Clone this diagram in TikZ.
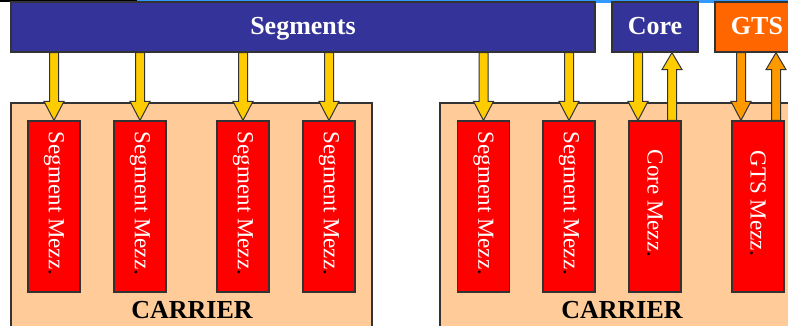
\documentclass[tikz,border=0pt]{standalone}
\usepackage{fontspec}
\setmainfont{Liberation Serif}
\usetikzlibrary{calc}
\definecolor{busblue}{HTML}{333399}
\definecolor{gtsorange}{HTML}{FF6600}
\definecolor{carrierfill}{HTML}{FFCC99}
\definecolor{mezzred}{HTML}{FF0000}
\definecolor{goldarrow}{HTML}{FFCC00}
\definecolor{orangearrow}{HTML}{FF9900}
\definecolor{edge}{HTML}{333333}
\definecolor{stripblue}{HTML}{3399FF}

% block arrow pointing down from a source box to a mezzanine (x offset from its centre)
\newcommand{\blockdown}[4]{%
  \draw[blockarrow, fill=#1] let \p1=($(#3.north)+(#4,0)$), \p2=(#2.south) in
    (\x1-4.5pt,\y2) -- (\x1+4.5pt,\y2) -- (\x1+4.5pt,\y1+19pt) -- (\x1+10pt,\y1+19pt)
    -- (\x1,\y1) -- (\x1-10pt,\y1+19pt) -- (\x1-4.5pt,\y1+19pt) -- cycle;}
% block arrow pointing up from a mezzanine to a source box
\newcommand{\blockup}[4]{%
  \draw[blockarrow, fill=#1] let \p1=($(#3.north)+(#4,0)$), \p2=(#2.south) in
    (\x1-4.5pt,\y1) -- (\x1+4.5pt,\y1) -- (\x1+4.5pt,\y2-17pt) -- (\x1+10pt,\y2-17pt)
    -- (\x1,\y2) -- (\x1-10pt,\y2-17pt) -- (\x1-4.5pt,\y2-17pt) -- cycle;}

\tikzset{
  blockarrow/.style={draw=edge, line width=1pt, line join=miter},
  topbox/.style={draw=edge, line width=1.2pt, fill=busblue, text=white,
    font=\fontsize{26}{30}\selectfont\bfseries, inner sep=0pt,
    text height=18pt, text depth=3pt},
  carrierbox/.style={draw=edge, line width=1.2pt, fill=carrierfill},
  mezzbox/.style={draw=edge, line width=1.2pt, fill=mezzred,
    minimum width=52pt, minimum height=171pt, inner sep=0pt},
  mezzlabel/.style={text=white, rotate=-90, font=\fontsize{23}{26}\selectfont, inner sep=0pt},
  carrierlabel/.style={font=\fontsize{26}{30}\selectfont\bfseries, inner sep=0pt}
}

\begin{document}
\begin{tikzpicture}[x=1pt, y=-1pt]
  \useasboundingbox (0,0) rectangle (788,325);
  \clip (0,0) rectangle (788,325);

  % strip along the top edge
  \fill[black] (0,0) rectangle (137,2);
  \fill[stripblue] (137,0) rectangle (788,2.5);

  % carrier boards
  \draw[carrierbox] (11,103) rectangle (372,340);
  \draw[carrierbox] (440,103) rectangle (804,340);
  \node[carrierlabel] (carrierL) at (192,310) {CARRIER};
  \node[carrierlabel] (carrierR) at (622,310) {CARRIER};

  % source boxes
  \node[topbox, minimum width=584pt, minimum height=50pt] (seg) at (303,27) {Segments};
  \node[topbox, minimum width=86pt, minimum height=50pt] (core) at (655,27) {Core};
  \node[topbox, fill=gtsorange, minimum width=84pt, minimum height=50pt] (gts) at (757,27) {GTS};

  % mezzanine cards
  \foreach \name/\cx in {m1/54, m2/140, m3/243, m4/329, m5/483.5, m6/569} {
    \node[mezzbox] (\name) at (\cx,206.5) {};
    \node[mezzlabel] at ($(\name)+(0,-3)$) {Segment Mezz{\color{black}.}};
  }
  \node[mezzbox] (mcore) at (655,206.5) {};
  \node[mezzlabel] at ($(mcore)+(0,-3)$) {Core Mezz{\color{black}.}};
  \node[mezzbox] (mgts) at (758,206.5) {};
  \node[mezzlabel] at ($(mgts)+(0,-3)$) {GTS Mezz{\color{black}.}};

  % data flow
  \foreach \name in {m1,m2,m3,m4,m5,m6} {
    \blockdown{goldarrow}{seg}{\name}{0pt}
  }
  \blockdown{goldarrow}{core}{mcore}{-17pt}
  \blockup{goldarrow}{core}{mcore}{17pt}
  \blockdown{orangearrow}{gts}{mgts}{-17pt}
  \blockup{orangearrow}{gts}{mgts}{18pt}
\end{tikzpicture}
\end{document}
